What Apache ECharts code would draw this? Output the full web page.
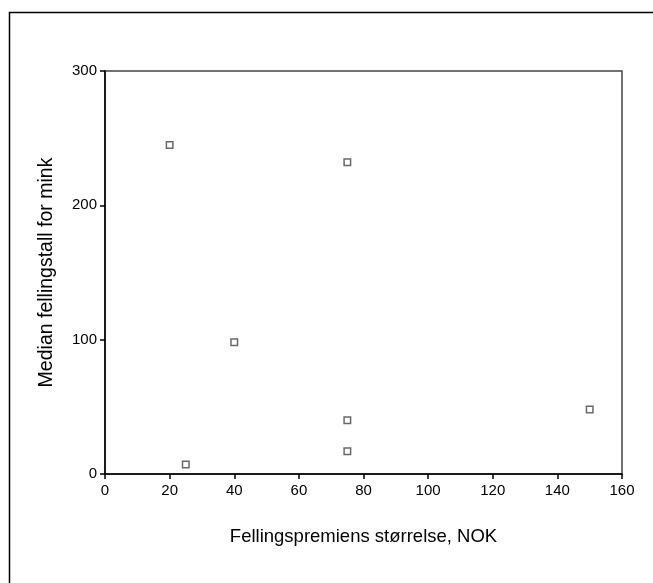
<!DOCTYPE html>
<html>
<head>
<meta charset="utf-8">
<script src="https://cdn.jsdelivr.net/npm/echarts@6/dist/echarts.min.js"></script>
<style>html,body{margin:0;padding:0;background:#fff;}#c{width:653px;height:583px;}</style>
</head>
<body>
<div id="c"></div>
<script>
const premium = [20, 75, 40, 25, 75, 75, 150];
const medianCount = [245, 232, 98, 7, 40, 17, 48];
const xTicks = {min: 0, max: 160, interval: 20};
const yTicks = {min: 0, max: 300, interval: 100};
const xTitle = 'Fellingspremiens størrelse, NOK';
const yTitle = 'Median fellingstall for mink';

const data = premium.map((x, i) => [x, medianCount[i]]);
const font = 'Arial, "Liberation Sans", sans-serif';
const chart = echarts.init(document.getElementById('c'));
chart.setOption({
  animation: false,
  backgroundColor: '#fff',
  graphic: [{
    type: 'rect', shape: {x: 9.5, y: 12.5, width: 700, height: 700},
    style: {fill: 'none', stroke: '#000', lineWidth: 1.5}, silent: true
  }],
  grid: {left: 105, top: 71, width: 517, height: 403, show: true, borderColor: '#444', borderWidth: 1.5, backgroundColor: 'transparent'},
  xAxis: {
    type: 'value', min: xTicks.min, max: xTicks.max, interval: xTicks.interval,
    name: xTitle, nameLocation: 'middle', nameGap: 53,
    nameTextStyle: {fontFamily: font, fontSize: 18.5, color: '#000'},
    axisLine: {show: true, onZero: false, lineStyle: {color: '#000', width: 1.5}},
    axisTick: {show: true, length: 5, lineStyle: {color: '#000', width: 1.5}},
    axisLabel: {fontFamily: font, fontSize: 15, color: '#000', margin: 9},
    splitLine: {show: false}
  },
  yAxis: {
    type: 'value', min: yTicks.min, max: yTicks.max, interval: yTicks.interval,
    name: yTitle, nameLocation: 'middle', nameGap: 48, nameRotate: 90,
    nameTextStyle: {fontFamily: font, fontSize: 19.5, color: '#000'},
    axisLine: {show: true, onZero: false, lineStyle: {color: '#000', width: 1.5}},
    axisTick: {show: true, length: 5, lineStyle: {color: '#000', width: 1.5}},
    axisLabel: {fontFamily: font, fontSize: 15, color: '#000', margin: 8},
    splitLine: {show: false}
  },
  series: [{
    type: 'scatter', data: data, symbol: 'rect', symbolSize: 6.5,
    itemStyle: {color: '#fff', borderColor: '#444', borderWidth: 1.5}
  }]
});
</script>
</body>
</html>
